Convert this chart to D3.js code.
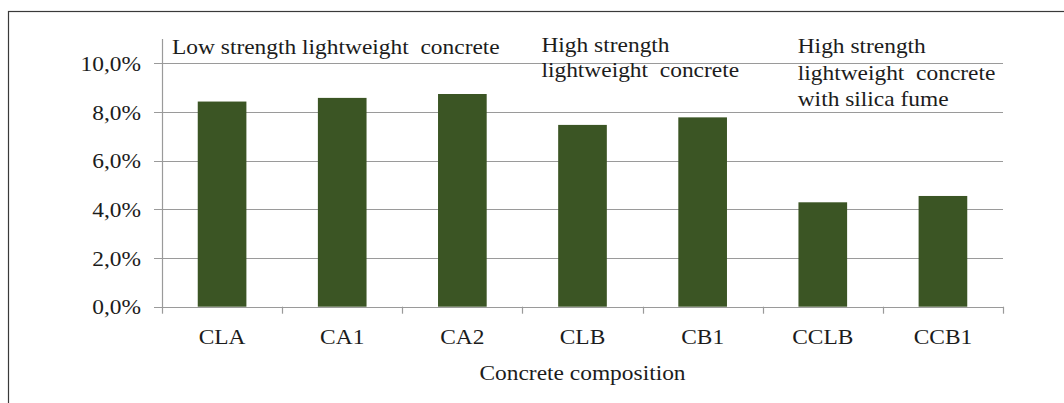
<!DOCTYPE html>
<html>
<head>
<meta charset="utf-8">
<script src="https://cdn.jsdelivr.net/npm/d3@7"></script>
<style>
  body { margin: 0; background: #fff; }
  svg text { font-family: 'Liberation Serif', 'Times New Roman', serif; fill: #1c1c1c; white-space: pre; }
</style>
</head>
<body>
<script>
  var width = 1064;
  var height = 403;

  // data
  var categories = ['CLA', 'CA1', 'CA2', 'CLB', 'CB1', 'CCLB', 'CCB1'];
  var values = [0.0843, 0.0858, 0.0874, 0.0747, 0.0778, 0.0429, 0.0455];
  var yTicks = [0, 0.02, 0.04, 0.06, 0.08, 0.10];
  var groupStarts = ['CLA', 'CLB', 'CCLB'];
  var groupLines = [
    ['Low strength lightweight  concrete'],
    ['High strength', 'lightweight  concrete'],
    ['High strength', 'lightweight  concrete', 'with silica fume']
  ];
  var xTitle = 'Concrete composition';

  var plot = {left: 162, right: 1003, top: 39, bottom: 306.7};
  var fontSize = 21.5;
  var stretch = 1.09;   // source text is a bit wider than plain Times

  var svg = d3.select('body').append('svg')
    .attr('width', width)
    .attr('height', height);

  // outer frame
  svg.append('rect')
    .attr('x', 8.5).attr('y', 11.5)
    .attr('width', width + 10).attr('height', height + 10)
    .attr('fill', 'none')
    .attr('stroke', '#3a3a3a')
    .attr('stroke-width', 1.2);

  // scales
  var xScale = d3.scaleBand()
    .domain(categories)
    .range([plot.left, plot.right])
    .paddingInner(0.595)
    .paddingOuter(0.2975);
  var xBand = d3.scaleBand()
    .domain(categories)
    .range([plot.left, plot.right]);
  var yScale = d3.scaleLinear()
    .domain([0, 0.11])
    .range([plot.bottom, plot.top]);

  var fmt = function(d) { return d3.format('.1%')(d).replace('.', ','); };
  var place = (x, y) => 'translate(' + x + ',' + y + ') scale(' + stretch + ',1)';

  // gridlines + y ticks
  svg.append('g').selectAll('line')
    .data(yTicks)
    .enter().append('line')
    .attr('x1', plot.left - 8)
    .attr('x2', plot.right)
    .attr('y1', d => Math.round(yScale(d)) + 0.5)
    .attr('y2', d => Math.round(yScale(d)) + 0.5)
    .attr('stroke', '#9a9a9a')
    .attr('stroke-width', 1.2);

  svg.append('g').selectAll('text')
    .data(yTicks)
    .enter().append('text')
    .attr('transform', d => place(plot.left - 21, yScale(d) + 7.5))
    .attr('text-anchor', 'end')
    .attr('font-size', fontSize)
    .text(fmt);

  // y axis line
  svg.append('line')
    .attr('x1', plot.left + 0.5).attr('x2', plot.left + 0.5)
    .attr('y1', plot.top).attr('y2', plot.bottom + 0.5)
    .attr('stroke', '#9a9a9a')
    .attr('stroke-width', 1.2);

  // x ticks at band edges
  var edges = categories.map(c => xBand(c)).concat([plot.right]);
  svg.append('g').selectAll('line')
    .data(edges)
    .enter().append('line')
    .attr('x1', d => Math.round(d) + 0.5)
    .attr('x2', d => Math.round(d) + 0.5)
    .attr('y1', plot.bottom)
    .attr('y2', plot.bottom + 7)
    .attr('stroke', '#9a9a9a')
    .attr('stroke-width', 1.2);

  // bars
  svg.append('g').selectAll('rect')
    .data(values)
    .enter().append('rect')
    .attr('x', (d, i) => xScale(categories[i]))
    .attr('width', xScale.bandwidth())
    .attr('y', d => yScale(d))
    .attr('height', d => yScale(0) - yScale(d))
    .attr('fill', '#3b5524');

  // category labels
  svg.append('g').selectAll('text')
    .data(categories)
    .enter().append('text')
    .attr('transform', d => place(xBand(d) + xBand.bandwidth() / 2, 344))
    .attr('text-anchor', 'middle')
    .attr('font-size', fontSize)
    .text(d => d);

  // axis title
  svg.append('text')
    .attr('transform', place((plot.left + plot.right) / 2, 380))
    .attr('text-anchor', 'middle')
    .attr('font-size', fontSize)
    .text(xTitle);

  // group annotations
  var offsets = [10, 19, 35];
  var firstBase = [54, 52, 53];
  var lineGap = [0, 25.5, 26.7];
  groupLines.forEach(function(lines, g) {
    var t = svg.append('text')
      .attr('transform', place(xBand(groupStarts[g]) + offsets[g], firstBase[g]))
      .attr('font-size', fontSize);
    lines.forEach(function(line, j) {
      t.append('tspan')
        .attr('x', 0)
        .attr('y', j * lineGap[g])
        .text(line);
    });
  });
</script>
</body>
</html>
